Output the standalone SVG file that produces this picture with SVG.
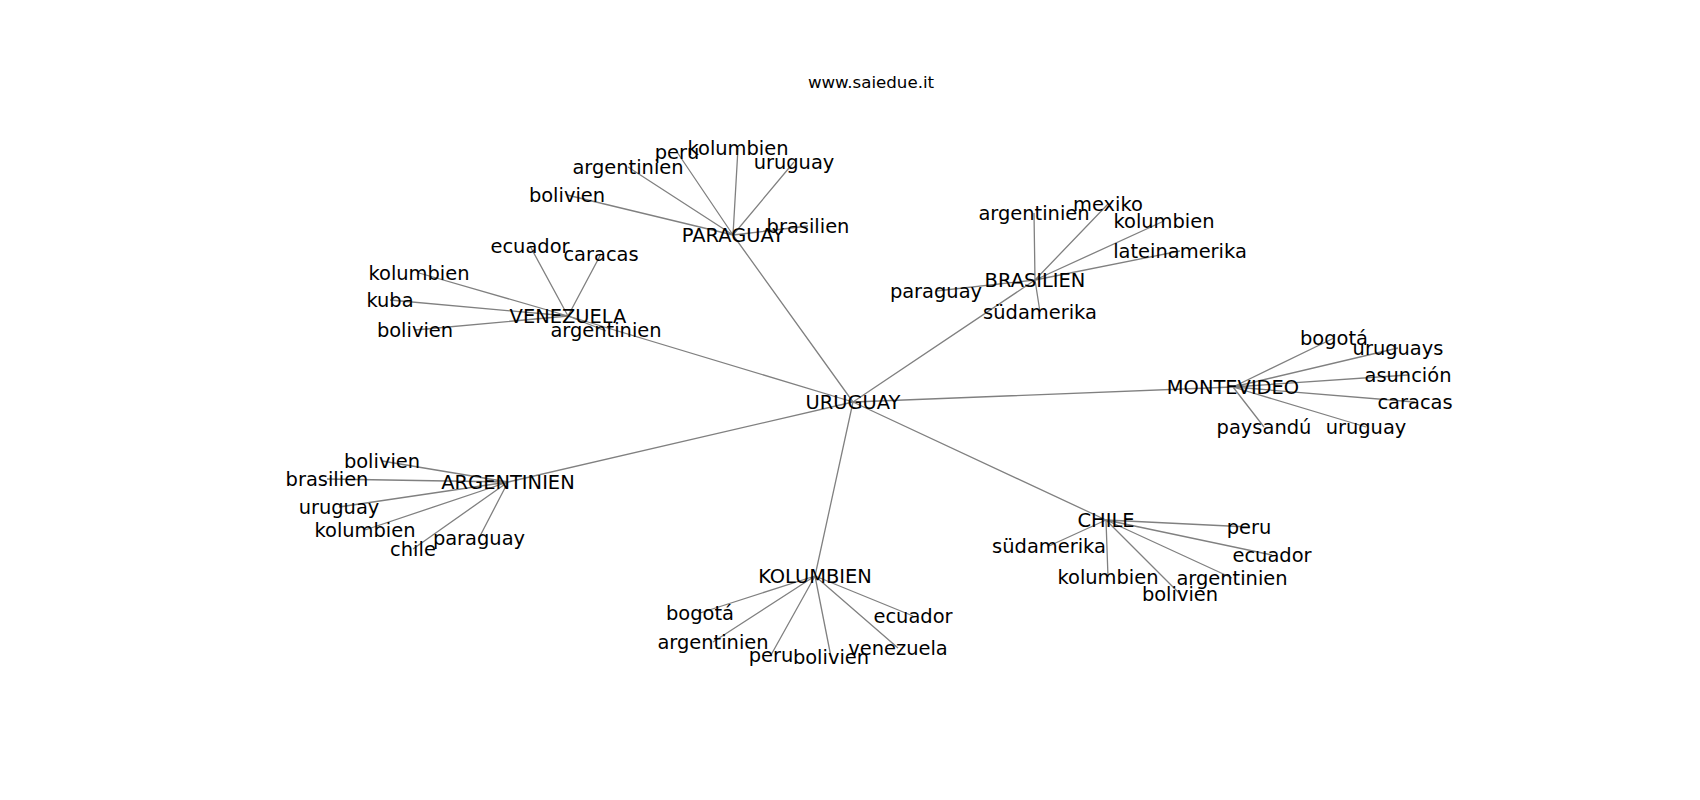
<svg xmlns="http://www.w3.org/2000/svg" width="1700" height="800" viewBox="0 0 1700 800">
<style>
.e{stroke:#808080;stroke-width:1.3;fill:none}
.l{font-family:"DejaVu Sans",sans-serif;font-size:19.44px;fill:#000;text-anchor:middle}
.t{font-family:"DejaVu Sans",sans-serif;font-size:16.67px;fill:#000;text-anchor:middle}
</style>
<rect width="1700" height="800" fill="#fff"/>
<text class="t" x="871" y="88">www.saiedue.it</text>
<g id="edges">
<path class="e" d="M853 402L733 235M853 402L1035 280M853 402L568 316M853 402L1233 387M853 402L508 482M853 402L815 576M853 402L1106 520"/>
<path class="e" d="M733 235L628 167M733 235L677 152M733 235L738 148M733 235L794 162M733 235L567 195M733 235L808 226"/>
<path class="e" d="M568 316L530 246M568 316L601 254M568 316L419 273M568 316L390 300M568 316L415 330M568 316L606 331"/>
<path class="e" d="M1035 280L1034 213M1035 280L1108 204M1035 280L1164 221M1035 280L1180 251M1035 280L936 291M1035 280L1040 312"/>
<path class="e" d="M1233 387L1334 338M1233 387L1398 348M1233 387L1408 375M1233 387L1415 402M1233 387L1264 427M1233 387L1366 427"/>
<path class="e" d="M508 482L382 461M508 482L327 479M508 482L339 507M508 482L365 530M508 482L413 549M508 482L479 538"/>
<path class="e" d="M815 576L700 613M815 576L713 642M815 576L771 655M815 576L831 657M815 576L898 648M815 576L913 616"/>
<path class="e" d="M1106 520L1249 527M1106 520L1272 555M1106 520L1049 546M1106 520L1108 577M1106 520L1232 578M1106 520L1180 594"/>
</g>
<g id="URUGUAY"><text class="l" x="853" y="409">URUGUAY</text></g>
<g id="PARAGUAY"><text class="l" x="733" y="242">PARAGUAY</text></g>
<g id="p_argentinien"><text class="l" x="628" y="174">argentinien</text></g>
<g id="p_peru"><text class="l" x="677" y="159">peru</text></g>
<g id="p_kolumbien"><text class="l" x="738" y="155">kolumbien</text></g>
<g id="p_uruguay"><text class="l" x="794" y="169">uruguay</text></g>
<g id="p_bolivien"><text class="l" x="567" y="202">bolivien</text></g>
<g id="p_brasilien"><text class="l" x="808" y="233">brasilien</text></g>
<g id="VENEZUELA"><text class="l" x="568" y="323">VENEZUELA</text></g>
<g id="v_ecuador"><text class="l" x="530" y="253">ecuador</text></g>
<g id="v_caracas"><text class="l" x="601" y="261">caracas</text></g>
<g id="v_kolumbien"><text class="l" x="419" y="280">kolumbien</text></g>
<g id="v_kuba"><text class="l" x="390" y="307">kuba</text></g>
<g id="v_bolivien"><text class="l" x="415" y="337">bolivien</text></g>
<g id="v_argentinien"><text class="l" x="606" y="337">argentinien</text></g>
<g id="BRASILIEN"><text class="l" x="1035" y="287">BRASILIEN</text></g>
<g id="b_argentinien"><text class="l" x="1034" y="220">argentinien</text></g>
<g id="b_mexiko"><text class="l" x="1108" y="211">mexiko</text></g>
<g id="b_kolumbien"><text class="l" x="1164" y="228">kolumbien</text></g>
<g id="b_lateinamerika"><text class="l" x="1180" y="258">lateinamerika</text></g>
<g id="b_paraguay"><text class="l" x="936" y="298">paraguay</text></g>
<g id="b_suedamerika"><text class="l" x="1040" y="319">südamerika</text></g>
<g id="MONTEVIDEO"><text class="l" x="1233" y="394">MONTEVIDEO</text></g>
<g id="m_bogota"><text class="l" x="1334" y="345">bogotá</text></g>
<g id="m_uruguays"><text class="l" x="1398" y="355">uruguays</text></g>
<g id="m_asuncion"><text class="l" x="1408" y="382">asunción</text></g>
<g id="m_caracas"><text class="l" x="1415" y="409">caracas</text></g>
<g id="m_paysandu"><text class="l" x="1264" y="434">paysandú</text></g>
<g id="m_uruguay"><text class="l" x="1366" y="434">uruguay</text></g>
<g id="ARGENTINIEN"><text class="l" x="508" y="489">ARGENTINIEN</text></g>
<g id="a_bolivien"><text class="l" x="382" y="468">bolivien</text></g>
<g id="a_brasilien"><text class="l" x="327" y="486">brasilien</text></g>
<g id="a_uruguay"><text class="l" x="339" y="514">uruguay</text></g>
<g id="a_kolumbien"><text class="l" x="365" y="537">kolumbien</text></g>
<g id="a_chile"><text class="l" x="413" y="556">chile</text></g>
<g id="a_paraguay"><text class="l" x="479" y="545">paraguay</text></g>
<g id="KOLUMBIEN"><text class="l" x="815" y="583">KOLUMBIEN</text></g>
<g id="k_bogota"><text class="l" x="700" y="620">bogotá</text></g>
<g id="k_argentinien"><text class="l" x="713" y="649">argentinien</text></g>
<g id="k_peru"><text class="l" x="771" y="662">peru</text></g>
<g id="k_bolivien"><text class="l" x="831" y="664">bolivien</text></g>
<g id="k_venezuela"><text class="l" x="898" y="655">venezuela</text></g>
<g id="k_ecuador"><text class="l" x="913" y="623">ecuador</text></g>
<g id="CHILE"><text class="l" x="1106" y="527">CHILE</text></g>
<g id="c_peru"><text class="l" x="1249" y="534">peru</text></g>
<g id="c_ecuador"><text class="l" x="1272" y="562">ecuador</text></g>
<g id="c_suedamerika"><text class="l" x="1049" y="553">südamerika</text></g>
<g id="c_kolumbien"><text class="l" x="1108" y="584">kolumbien</text></g>
<g id="c_argentinien"><text class="l" x="1232" y="585">argentinien</text></g>
<g id="c_bolivien"><text class="l" x="1180" y="601">bolivien</text></g>
</svg>
